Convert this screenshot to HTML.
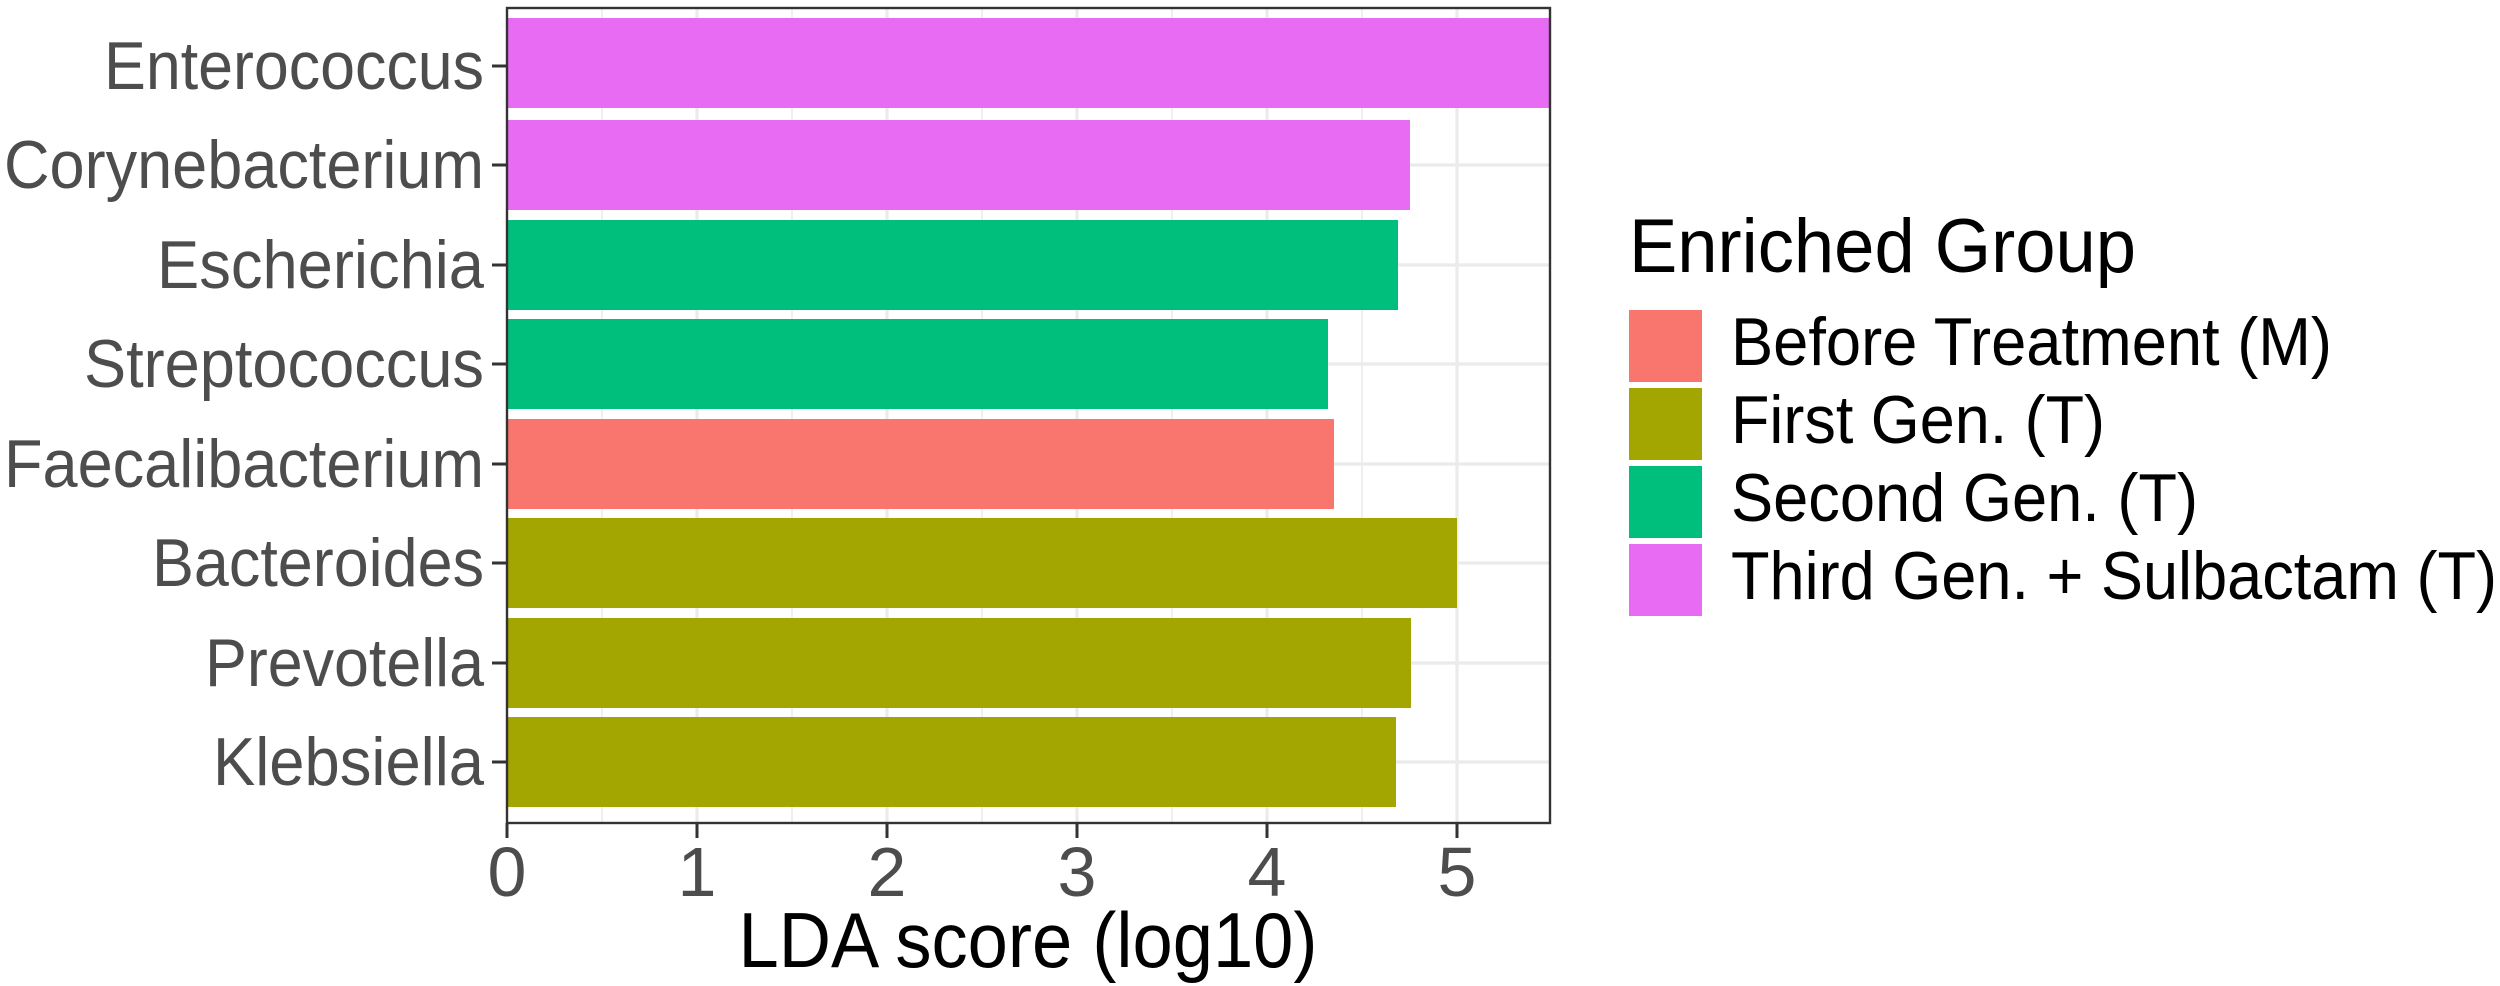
<!DOCTYPE html>
<html><head><meta charset="utf-8"><style>
html,body{margin:0;padding:0;background:#fff;}
svg{display:block;font-family:"Liberation Sans",Arial,sans-serif;}
</style></head><body>
<svg width="2500" height="986" viewBox="0 0 2500 986" xmlns="http://www.w3.org/2000/svg">
<rect width="2500" height="986" fill="#fff"/>
<g stroke="#ebebeb" stroke-width="1.6">
<line x1="602" y1="8" x2="602" y2="823"/><line x1="792" y1="8" x2="792" y2="823"/>
<line x1="982" y1="8" x2="982" y2="823"/><line x1="1172" y1="8" x2="1172" y2="823"/>
<line x1="1362" y1="8" x2="1362" y2="823"/>
</g>
<g stroke="#ebebeb" stroke-width="3.2">
<line x1="697" y1="8" x2="697" y2="823"/><line x1="887" y1="8" x2="887" y2="823"/>
<line x1="1077" y1="8" x2="1077" y2="823"/><line x1="1267" y1="8" x2="1267" y2="823"/>
<line x1="1457" y1="8" x2="1457" y2="823"/>
<line x1="507" y1="66" x2="1550" y2="66"/><line x1="507" y1="165" x2="1550" y2="165"/>
<line x1="507" y1="265" x2="1550" y2="265"/><line x1="507" y1="364" x2="1550" y2="364"/>
<line x1="507" y1="464" x2="1550" y2="464"/><line x1="507" y1="563" x2="1550" y2="563"/>
<line x1="507" y1="663" x2="1550" y2="663"/><line x1="507" y1="762" x2="1550" y2="762"/>
</g>
<rect x="507" y="18" width="1043" height="90" fill="#E76BF3"/>
<rect x="507" y="120" width="903" height="90" fill="#E76BF3"/>
<rect x="507" y="220" width="891" height="90" fill="#00BF7D"/>
<rect x="507" y="319" width="821" height="90" fill="#00BF7D"/>
<rect x="507" y="419" width="827" height="90" fill="#F8766D"/>
<rect x="507" y="518" width="950" height="90" fill="#A3A500"/>
<rect x="507" y="618" width="904" height="90" fill="#A3A500"/>
<rect x="507" y="717" width="889" height="90" fill="#A3A500"/>
<rect x="507" y="8" width="1043" height="815" fill="none" stroke="#333" stroke-width="2.4"/>
<g stroke="#333" stroke-width="3">
<line x1="492" y1="66" x2="507" y2="66"/><line x1="492" y1="165" x2="507" y2="165"/>
<line x1="492" y1="265" x2="507" y2="265"/><line x1="492" y1="364" x2="507" y2="364"/>
<line x1="492" y1="464" x2="507" y2="464"/><line x1="492" y1="563" x2="507" y2="563"/>
<line x1="492" y1="663" x2="507" y2="663"/><line x1="492" y1="762" x2="507" y2="762"/>
<line x1="507" y1="823" x2="507" y2="838"/><line x1="697" y1="823" x2="697" y2="838"/>
<line x1="887" y1="823" x2="887" y2="838"/><line x1="1077" y1="823" x2="1077" y2="838"/>
<line x1="1267" y1="823" x2="1267" y2="838"/><line x1="1457" y1="823" x2="1457" y2="838"/>
</g>
<g fill="#4d4d4d" font-size="68" text-anchor="end" lengthAdjust="spacingAndGlyphs">
<text x="484" y="89" textLength="380" lengthAdjust="spacingAndGlyphs">Enterococcus</text>
<text x="484" y="188" textLength="480" lengthAdjust="spacingAndGlyphs">Corynebacterium</text>
<text x="484" y="288" textLength="327" lengthAdjust="spacingAndGlyphs">Escherichia</text>
<text x="484" y="387" textLength="400" lengthAdjust="spacingAndGlyphs">Streptococcus</text>
<text x="484" y="487" textLength="480" lengthAdjust="spacingAndGlyphs">Faecalibacterium</text>
<text x="484" y="586" textLength="332" lengthAdjust="spacingAndGlyphs">Bacteroides</text>
<text x="484" y="686" textLength="279" lengthAdjust="spacingAndGlyphs">Prevotella</text>
<text x="484" y="785" textLength="271" lengthAdjust="spacingAndGlyphs">Klebsiella</text>
</g>
<g fill="#4d4d4d" font-size="70" text-anchor="middle">
<text x="507" y="896">0</text><text x="697" y="896">1</text><text x="887" y="896">2</text>
<text x="1077" y="896">3</text><text x="1267" y="896">4</text><text x="1457" y="896">5</text>
</g>
<text x="1028" y="967" font-size="78" text-anchor="middle" fill="#000" textLength="579" lengthAdjust="spacingAndGlyphs">LDA score (log10)</text>
<text x="1629" y="272" font-size="76" fill="#000" textLength="507" lengthAdjust="spacingAndGlyphs">Enriched Group</text>
<rect x="1629" y="310" width="73" height="72" fill="#F8766D"/>
<rect x="1629" y="388" width="73" height="72" fill="#A3A500"/>
<rect x="1629" y="466" width="73" height="72" fill="#00BF7D"/>
<rect x="1629" y="544" width="73" height="72" fill="#E76BF3"/>
<g fill="#000" font-size="68">
<text x="1731" y="365" textLength="601" lengthAdjust="spacingAndGlyphs">Before Treatment (M)</text>
<text x="1731" y="443" textLength="374" lengthAdjust="spacingAndGlyphs">First Gen. (T)</text>
<text x="1731" y="521" textLength="467" lengthAdjust="spacingAndGlyphs">Second Gen. (T)</text>
<text x="1731" y="599" textLength="766" lengthAdjust="spacingAndGlyphs">Third Gen. + Sulbactam (T)</text>
</g>
</svg>
</body></html>
